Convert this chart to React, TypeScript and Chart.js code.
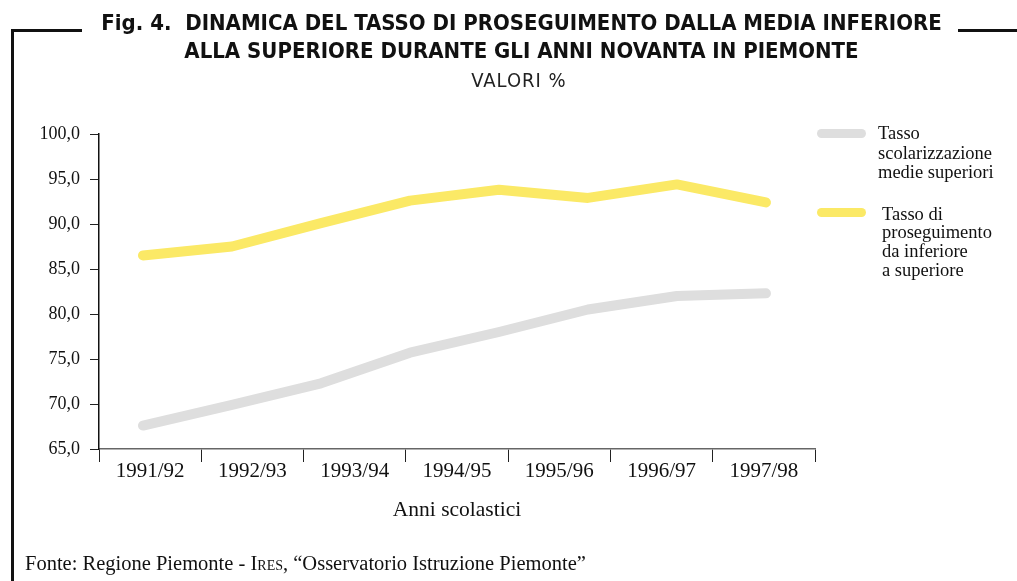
import React, { useEffect, useRef } from "react";
import { Chart, registerables } from "chart.js";

Chart.register(...registerables);

// ---- data ----
const categories = ["1991/92", "1992/93", "1993/94", "1994/95", "1995/96", "1996/97", "1997/98"];
const pointIndex = [0, 1, 2, 3, 4, 5, 6, 7];
const scolarizzazione = [67.6, 69.9, 72.3, 75.7, 78.0, 80.5, 82.0, 82.3];
const proseguimento = [86.5, 87.5, 90.1, 92.6, 93.8, 92.9, 94.4, 92.4];
const yTicks = [65, 70, 75, 80, 85, 90, 95, 100];

const seriesNames = ["Tasso scolarizzazione medie superiori", "Tasso di proseguimento da inferiore a superiore"];
const GRAY = "#dedede";
const YELLOW = "#fbe966";

const SERIF = "'Liberation Serif', 'Times New Roman', serif";
const TITLE_FONT = "'DejaVu Sans Condensed', 'Liberation Sans Narrow', sans-serif";

export default function App() {
  const ref = useRef<HTMLCanvasElement>(null);

  useEffect(() => {
    if (!ref.current) return;
    const chart = new Chart(ref.current, {
      type: "line",
      data: {
        datasets: [
          {
            label: seriesNames[0],
            data: pointIndex.map((i) => ({ x: i, y: scolarizzazione[i] })),
            borderColor: GRAY,
            backgroundColor: GRAY,
            borderWidth: 10,
            borderCapStyle: "round",
            borderJoinStyle: "round",
            pointRadius: 0,
            xAxisID: "xd",
          },
          {
            label: seriesNames[1],
            data: pointIndex.map((i) => ({ x: i, y: proseguimento[i] })),
            borderColor: YELLOW,
            backgroundColor: YELLOW,
            borderWidth: 10,
            borderCapStyle: "round",
            borderJoinStyle: "round",
            pointRadius: 0,
            xAxisID: "xd",
          },
        ],
      },
      options: {
        animation: false,
        responsive: true,
        maintainAspectRatio: false,
        layout: { padding: { left: 0, top: 134, right: 202, bottom: 52 } },
        plugins: { legend: { display: false }, tooltip: { enabled: false }, title: { display: false } },
        scales: {
          x: {
            type: "category",
            labels: categories,
            offset: true,
            position: "bottom",
            grid: { display: true, offset: true, drawOnChartArea: false, tickLength: 13, tickColor: "#222", tickWidth: 1 },
            border: { display: true, color: "#666", width: 1.5 },
            ticks: { color: "#111", font: { family: SERIF, size: 21 }, padding: -3, maxRotation: 0, autoSkip: false },
            title: { display: true, text: "Anni scolastici", color: "#111", font: { family: SERIF, size: 21.5 }, padding: { top: 0, bottom: 6 } },
            afterFit: (s: any) => { s.height = 80; },
          },
          xd: {
            type: "linear",
            display: false,
            min: -0.494,
            max: 7.551,
          },
          y: {
            type: "linear",
            min: yTicks[0],
            max: yTicks[yTicks.length - 1],
            afterBuildTicks: (s: any) => { s.ticks = yTicks.map((v) => ({ value: v })); },
            grid: { display: true, drawOnChartArea: false, tickLength: 9, tickColor: "#222", tickWidth: 1 },
            border: { display: true, color: "#111", width: 1.5 },
            ticks: {
              color: "#111",
              font: { family: SERIF, size: 18 },
              padding: 10,
              callback: (v: any) => Number(v).toFixed(1).replace(".", ","),
            },
            afterFit: (s: any) => { s.width = 99; },
          },
        },
      },
    });
    return () => chart.destroy();
  }, []);

  const legendText: React.CSSProperties = {
    position: "absolute",
    fontFamily: SERIF,
    fontSize: 18.5,
    lineHeight: "19.5px",
    color: "#111",
    whiteSpace: "nowrap",
  };

  return (
    <div style={{ position: "absolute", left: 0, top: 0, width: 1017, height: 581, background: "#fff", overflow: "hidden" }}>
      <div style={{ position: "absolute", left: 0, top: 0, width: 1017, height: 581 }}>
        <canvas ref={ref} />
      </div>
      {/* frame */}
      <div style={{ position: "absolute", left: 11, top: 29, width: 3, height: 553, background: "#111" }} />
      <div style={{ position: "absolute", left: 11, top: 29, width: 71, height: 3, background: "#111" }} />
      <div style={{ position: "absolute", left: 958, top: 29, width: 59, height: 3, background: "#111" }} />
      {/* title */}
      <div
        style={{
          position: "absolute",
          left: 0,
          width: 1043,
          top: 9,
          textAlign: "center",
          fontFamily: TITLE_FONT,
          fontWeight: "bold",
          fontSize: 22,
          lineHeight: "28px",
          color: "#111",
          whiteSpace: "nowrap",
        }}
      >
        <div>Fig. 4.&nbsp; DINAMICA DEL TASSO DI PROSEGUIMENTO DALLA MEDIA INFERIORE</div>
        <div>ALLA SUPERIORE DURANTE GLI ANNI NOVANTA IN PIEMONTE</div>
      </div>
      <div
        style={{
          position: "absolute",
          left: 0,
          width: 1038,
          top: 69,
          textAlign: "center",
          fontFamily: TITLE_FONT,
          fontSize: 20,
          letterSpacing: "1px",
          lineHeight: "22px",
          color: "#222",
        }}
      >
        VALORI %
      </div>
      {/* legend */}
      <div style={{ position: "absolute", left: 817, top: 129, width: 49, height: 9, borderRadius: 4.5, background: GRAY }} />
      <div style={{ ...legendText, left: 878, top: 124 }}>
        Tasso<br />scolarizzazione<br />medie superiori
      </div>
      <div style={{ position: "absolute", left: 817, top: 208, width: 49, height: 9, borderRadius: 4.5, background: YELLOW }} />
      <div style={{ ...legendText, left: 882, top: 204.5, lineHeight: "18.7px" }}>
        Tasso di<br />proseguimento<br />da inferiore<br />a superiore
      </div>
      {/* footer */}
      <div
        style={{
          position: "absolute",
          left: 25,
          top: 551,
          fontFamily: SERIF,
          fontSize: 20.5,
          lineHeight: "24px",
          color: "#111",
          whiteSpace: "nowrap",
        }}
      >
        Fonte: Regione Piemonte - <span style={{ fontVariant: "small-caps" }}>Ires</span>, “Osservatorio Istruzione Piemonte”
      </div>
    </div>
  );
}
